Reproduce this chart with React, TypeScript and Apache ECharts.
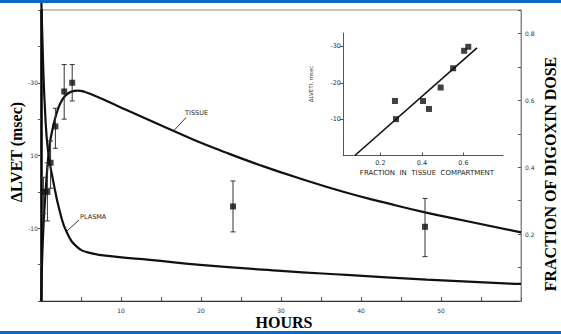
import React, { useEffect, useRef } from "react";
import * as echarts from "echarts";

// Main chart: measured ΔLVET (msec, plotted as magnitude) vs hours
const pointHours = [0.3, 0.8, 1.2, 1.8, 2.9, 3.9, 24, 48];
const pointDlvet = [15, 15, 19, 24, 28.8, 30, 13, 10.2];
const pointLow = [12, 11, 15.5, 21, 25, 27.5, 9.5, 6.1];
const pointHigh = [17, 19, 22, 26.5, 32.5, 32.5, 16.5, 14.1];

// Tissue compartment fraction of digoxin dose
const tissueHours = [0, 0.1, 0.3, 0.5, 0.8, 1.1, 1.5, 2.0, 2.5, 3.1, 3.8, 4.6, 5.5, 6.5, 8.5, 10.7, 14.9, 19.0, 23.2, 27.4, 32, 38, 43, 48, 53, 60];
const tissueFrac = [0, 0.09, 0.22, 0.3, 0.4, 0.47, 0.52, 0.565, 0.595, 0.615, 0.626, 0.629, 0.625, 0.616, 0.595, 0.571, 0.526, 0.483, 0.443, 0.406, 0.369, 0.325, 0.294, 0.265, 0.24, 0.205];

// Plasma fraction of digoxin dose
const plasmaHours = [0, 0.25, 0.5, 0.875, 1.5, 2.4, 3.25, 4.5, 6.1, 9.5, 13.6, 19.9, 30, 38.2, 48.2, 58.6, 60];
const plasmaFrac = [0.93, 0.72, 0.571, 0.45, 0.362, 0.263, 0.204, 0.162, 0.144, 0.132, 0.123, 0.108, 0.09, 0.078, 0.064, 0.052, 0.051];

// Tick labels
const hourTickValues = [10, 20, 30, 40, 50];
const dlvetTickValues = [10, 20, 30];
const dlvetTickLabels = ["-10", "10", "-30"];
const fracTickValues = [0.2, 0.4, 0.6, 0.8];
const fracTickLabels = ["0.2", "0.4", "0.6", "0.8"];

// Inset: ΔLVETI vs fraction in tissue compartment
const insetFrac = [0.27, 0.275, 0.405, 0.434, 0.49, 0.55, 0.603, 0.623];
const insetDlvet = [15, 10, 15, 12.8, 18.7, 24, 28.8, 29.9];
const fitFrac = [0.077, 0.665];
const fitDlvet = [0, 29.6];
const insetXTicks = [0.2, 0.4, 0.6];
const insetXLabels = ["0.2", "0.4", "0.6"];
const insetYTicks = [10, 20, 30];
const insetYLabels = ["-10", "-20", "-30"];

const near = (a: number, b: number) => Math.abs(a - b) < 1e-6;
const labelFor = (vals: number[], labels: string[]) => (v: number) => {
  const i = vals.findIndex((x) => near(x, v));
  return i >= 0 ? labels[i] : "";
};

export default function App() {
  const ref = useRef<HTMLDivElement>(null);
  useEffect(() => {
    if (!ref.current) return;
    const chart = echarts.init(ref.current, null, { renderer: "svg" });
    const tickFont = { fontFamily: "DejaVu Sans", fontSize: 6, color: "#333" };
    const curveStyle = { color: "#111", width: 2.2 };
    chart.setOption({
      animation: false,
      backgroundColor: "#ffffff",
      grid: [
        { left: 41, top: 10, right: 40, bottom: 33, show: true, borderColor: "#8a8a8a", borderWidth: 1, backgroundColor: "transparent" },
        { left: 343, top: 33, right: 58, bottom: 178.5 },
      ],
      xAxis: [
        {
          type: "value", gridIndex: 0, min: 0, max: 60, interval: 5,
          axisLine: { lineStyle: { color: "#333", width: 1.2 } },
          axisTick: { inside: true, length: 4, lineStyle: { color: "#555" } },
          axisLabel: { ...tickFont, margin: 6, formatter: labelFor(hourTickValues, hourTickValues.map(String)) },
          splitLine: { show: false },
        },
        {
          type: "value", gridIndex: 1, min: 0.02, max: 0.79,
          axisLine: { lineStyle: { color: "#555", width: 1 } },
          axisTick: { inside: true, length: 3, customValues: insetXTicks, lineStyle: { color: "#555" } },
          axisLabel: { ...tickFont, fontSize: 6.5, margin: 4, customValues: insetXTicks, formatter: labelFor(insetXTicks, insetXLabels) },
          splitLine: { show: false },
        },
      ],
      yAxis: [
        {
          type: "value", gridIndex: 0, position: "left", min: 0, max: 40, interval: 5,
          axisLine: { show: true, lineStyle: { color: "#000", width: 2.5 } },
          axisTick: { show: true, length: 3, lineStyle: { color: "#555" } },
          axisLabel: { ...tickFont, margin: 3, formatter: labelFor(dlvetTickValues, dlvetTickLabels) },
          splitLine: { show: false },
        },
        {
          type: "value", gridIndex: 0, position: "right", min: 0, max: 0.87, interval: 0.1,
          axisLine: { show: true, lineStyle: { color: "#888", width: 1 } },
          axisTick: { show: true, inside: true, length: 3, lineStyle: { color: "#555" } },
          axisLabel: { ...tickFont, margin: 4, formatter: labelFor(fracTickValues, fracTickLabels) },
          splitLine: { show: false },
        },
        {
          type: "value", gridIndex: 1, min: 0, max: 33.7,
          axisLine: { show: true, lineStyle: { color: "#555", width: 1 } },
          axisTick: { show: true, length: 3, customValues: insetYTicks, lineStyle: { color: "#555" } },
          axisLabel: { ...tickFont, fontSize: 6.5, margin: 2, customValues: insetYTicks, formatter: labelFor(insetYTicks, insetYLabels) },
          splitLine: { show: false },
        },
      ],
      series: [
        {
          type: "line", xAxisIndex: 0, yAxisIndex: 1, showSymbol: false, symbol: "none",
          smooth: true,
          data: tissueHours.map((t, i) => [t, tissueFrac[i]]),
          lineStyle: curveStyle, z: 3,
        },
        {
          type: "line", xAxisIndex: 0, yAxisIndex: 1, showSymbol: false, symbol: "none",
          smooth: true, clip: false,
          data: plasmaHours.map((t, i) => [t, plasmaFrac[i]]),
          lineStyle: curveStyle, z: 3,
        },
        {
          type: "custom", xAxisIndex: 0, yAxisIndex: 0, z: 4,
          data: pointHours.map((t, i) => [t, pointLow[i], pointHigh[i]]),
          renderItem: (params: any, api: any) => {
            const lo = api.coord([api.value(0), api.value(1)]);
            const hi = api.coord([api.value(0), api.value(2)]);
            const w = 2.5;
            const s = { stroke: "#333", lineWidth: 1 };
            return {
              type: "group",
              children: [
                { type: "line", shape: { x1: lo[0], y1: lo[1], x2: hi[0], y2: hi[1] }, style: s },
                { type: "line", shape: { x1: lo[0] - w, y1: lo[1], x2: lo[0] + w, y2: lo[1] }, style: s },
                { type: "line", shape: { x1: hi[0] - w, y1: hi[1], x2: hi[0] + w, y2: hi[1] }, style: s },
              ],
            };
          },
        },
        {
          type: "scatter", xAxisIndex: 0, yAxisIndex: 0, symbol: "rect", symbolSize: 6, z: 5,
          itemStyle: { color: "#111" },
          data: pointHours.map((t, i) => [t, pointDlvet[i]]),
        },
        {
          type: "scatter", xAxisIndex: 1, yAxisIndex: 2, symbol: "rect", symbolSize: 6, z: 5,
          itemStyle: { color: "#111" },
          data: insetFrac.map((f, i) => [f, insetDlvet[i]]),
        },
        {
          type: "line", xAxisIndex: 1, yAxisIndex: 2, symbol: "none",
          lineStyle: { color: "#111", width: 1.6 },
          data: fitFrac.map((f, i) => [f, fitDlvet[i]]),
        },
      ],
      graphic: [
        { type: "rect", shape: { x: 0, y: 0, width: 561, height: 3 }, style: { fill: "#0a68c8" }, z: 100 },
        { type: "rect", shape: { x: 0, y: 331, width: 561, height: 3 }, style: { fill: "#0a68c8" }, z: 100 },
        {
          type: "text", x: 16, y: 152, rotation: Math.PI / 2,
          style: { text: "ΔLVET (msec)", font: "bold 16px 'Liberation Serif'", fill: "#000", textAlign: "center", textVerticalAlign: "middle" },
        },
        {
          type: "text", x: 284, y: 322,
          style: { text: "HOURS", font: "bold 16px 'Liberation Serif'", fill: "#000", textAlign: "center", textVerticalAlign: "middle" },
        },
        {
          type: "text", x: 550, y: 174, rotation: Math.PI / 2,
          style: { text: "FRACTION OF DIGOXIN DOSE", font: "bold 16px 'Liberation Serif'", fill: "#000", textAlign: "center", textVerticalAlign: "middle" },
        },
        {
          type: "text", x: 427, y: 173,
          style: { text: "FRACTION  IN  TISSUE  COMPARTMENT", font: "7px 'DejaVu Sans'", fill: "#222", textAlign: "center", textVerticalAlign: "middle" },
        },
        {
          type: "text", x: 311, y: 84, rotation: Math.PI / 2,
          style: { text: "ΔLVETI, msec", font: "5.5px 'DejaVu Sans'", fill: "#333", textAlign: "center", textVerticalAlign: "middle" },
        },
        {
          type: "text", x: 185, y: 113,
          style: { text: "TISSUE", font: "6.5px 'DejaVu Sans'", fill: "#222", textAlign: "left", textVerticalAlign: "middle" },
        },
        { type: "line", shape: { x1: 186, y1: 117.5, x2: 173.5, y2: 131 }, style: { stroke: "#333", lineWidth: 1 } },
        {
          type: "text", x: 80, y: 217,
          style: { text: "PLASMA", font: "6.5px 'DejaVu Sans'", fill: "#222", textAlign: "left", textVerticalAlign: "middle" },
        },
        { type: "line", shape: { x1: 79, y1: 220, x2: 67, y2: 231 }, style: { stroke: "#333", lineWidth: 1 } },
      ],
    });
    return () => chart.dispose();
  }, []);
  return <div ref={ref} style={{ position: "fixed", left: 0, top: 0, width: 561, height: 334, background: "#fff" }} />;
}
